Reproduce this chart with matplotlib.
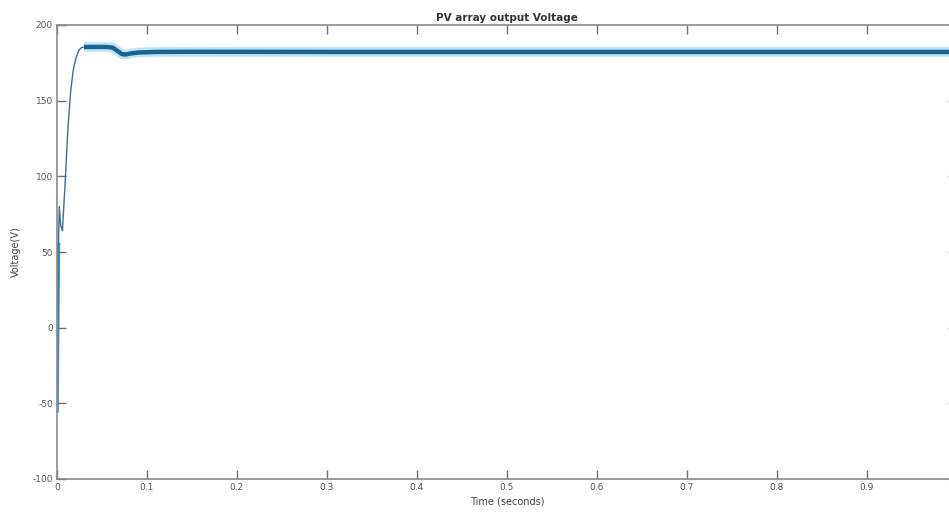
import matplotlib
matplotlib.use("Agg")
import matplotlib.pyplot as plt

# Data (time in s, voltage in V)
time_s = [0.0, 0.0008, 0.0016, 0.0026, 0.0040, 0.0060, 0.0090, 0.0120, 0.0150,
          0.0180, 0.0210, 0.0240, 0.0270, 0.0300, 0.0400, 0.0550, 0.0620,
          0.0680, 0.0720, 0.0760, 0.0820, 0.0900, 0.1100, 0.1500, 0.3000,
          0.5000, 0.7000, 0.9000, 1.0000]
voltage_v = [-55.0, 5.0, 55.0, 80.0, 68.0, 64.0, 95.0, 130.0, 155.0,
             170.0, 178.0, 183.0, 185.0, 185.5, 185.5, 185.5, 185.0,
             182.5, 180.8, 180.5, 181.2, 181.8, 182.2, 182.3, 182.2,
             182.2, 182.2, 182.2, 182.2]

x_ticks = [0, 0.1, 0.2, 0.3, 0.4, 0.5, 0.6, 0.7, 0.8, 0.9]
x_tick_labels = ["0", "0.1", "0.2", "0.3", "0.4", "0.5", "0.6", "0.7", "0.8", "0.9"]
y_ticks = [-100, -50, 0, 50, 100, 150, 200]
y_tick_labels = ["-100", "-50", "0", "50", "100", "150", "200"]

fig = plt.figure(figsize=(9.49, 5.18), dpi=100)
ax = fig.add_axes([57 / 949, 39 / 518, 900 / 949, 454 / 518])

# split into thin start-up section and thick steady section
split = 13
ax.plot(time_s[:split + 1], voltage_v[:split + 1], color="#3a6f98", lw=1.0)
ax.plot(time_s[split:], voltage_v[split:], color="#bfe6f7", lw=7, solid_capstyle="butt")
ax.plot(time_s[split:], voltage_v[split:], color="#1c6394", lw=3.2, solid_capstyle="butt")
ax.plot(time_s[:3], voltage_v[:3], color="#2a7fb5", lw=2.6, alpha=0.85)

ax.set_xlim(0, 1)
ax.set_ylim(-100, 200)
ax.set_xticks(x_ticks)
ax.set_xticklabels(x_tick_labels)
ax.set_yticks(y_ticks)
ax.set_yticklabels(y_tick_labels)

ax.tick_params(direction="in", length=6.5, width=1.0, color="#707070",
               labelsize=6.5, labelcolor="#555555", top=True, right=True, pad=3)
for s in ax.spines.values():
    s.set_color("#8a8a8a")
    s.set_linewidth(1.2)

ax.set_title("PV array output Voltage", fontsize=7.5, fontweight="bold",
             color="#333333", pad=3)
ax.set_xlabel("Time (seconds)", fontsize=7, color="#444444", labelpad=3)
ax.set_ylabel("Voltage(V)", fontsize=7, color="#444444", labelpad=8)

fig.savefig("out.png", dpi=100)
